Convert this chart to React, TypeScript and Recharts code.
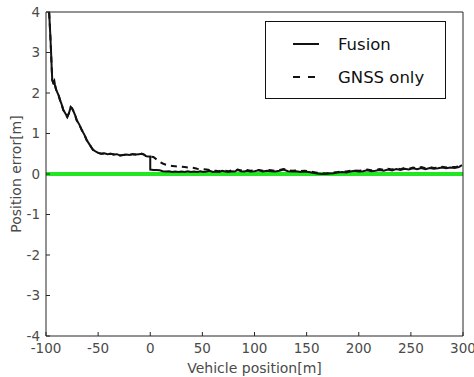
import { CartesianGrid, Line, LineChart, ReferenceLine, XAxis, YAxis } from 'recharts';

const font = '"DejaVu Sans", Verdana, sans-serif';
const axisColor = '#262626';
const tickText = { fill: '#4a4a4a', fontSize: 13.5, fontFamily: font };

const xTicks = [-100, -50, 0, 50, 100, 150, 200, 250, 300];
const yTicks = [-4, -3, -2, -1, 0, 1, 2, 3, 4];

// vehicle position [m]
const positions = [
  -98, -97, -96, -95.2, -94.5, -94, -93, -92, -91.4, -90.5, -89.8, -88, -86.6, -85, -83.4, -81.5, -79.6, -78,
  -76.3, -75, -73.8, -72, -70.6, -68, -65.8, -63, -61, -58, -55, -52, -50, -47, -44, -41, -38, -35, -32, -29,
  -26, -23, -20, -17, -14, -11, -8, -6, -4, -2, 0, 0, 3, 6, 9, 12, 15, 18, 21, 24, 27, 30, 33, 36, 39, 42, 45,
  48, 51, 54, 57, 60, 63, 66, 69, 72, 75, 78, 81, 84, 87, 90, 93, 96, 100, 104, 108, 112, 116, 120, 124, 128,
  132, 136, 140, 144, 148, 152, 156, 160, 164, 168, 172, 176, 180, 184, 188, 192, 196, 200, 204, 208, 212, 216,
  220, 224, 228, 232, 236, 240, 244, 248, 252, 256, 260, 264, 268, 272, 276, 280, 284, 288, 292, 296, 299,
];

const fusionErr = [
  4.8, 4.0, 3.5, 3.05, 2.6, 2.32, 2.25, 2.3, 2.2, 2.1, 2.05, 1.95, 1.83, 1.72, 1.58, 1.5, 1.41, 1.5,
  1.65, 1.62, 1.56, 1.45, 1.33, 1.22, 1.09, 0.96, 0.84, 0.72, 0.6, 0.55, 0.52, 0.5, 0.51, 0.49, 0.5, 0.48, 0.49, 0.46,
  0.47, 0.48, 0.47, 0.49, 0.48, 0.49, 0.5, 0.48, 0.44, 0.43, 0.43, 0.11, 0.1, 0.1, 0.09, 0.07, 0.06, 0.07, 0.05, 0.06, 0.05, 0.06, 0.05, 0.07, 0.05, 0.06, 0.05,
  0.07, 0.05, 0.06, 0.08, 0.05, 0.06, 0.05, 0.08, 0.06, 0.05, 0.07, 0.06, 0.1, 0.07, 0.06, 0.08, 0.06, 0.07, 0.09, 0.06, 0.08, 0.07, 0.06, 0.08, 0.11,
  0.07, 0.06, 0.07, 0.05, 0.06, 0.05, 0.03, 0.01, 0.0, 0.0, 0.01, 0.02, 0.04, 0.05, 0.04, 0.06, 0.08, 0.06, 0.07, 0.09, 0.07, 0.08,
  0.1, 0.08, 0.11, 0.09, 0.12, 0.1, 0.13, 0.11, 0.14, 0.12, 0.15, 0.12, 0.15, 0.13, 0.14, 0.16, 0.14, 0.16, 0.15, 0.17, 0.22,
];

const gnssErr = [
  4.8, 4.0, 3.5, 3.05, 2.6, 2.32, 2.25, 2.3, 2.2, 2.1, 2.05, 1.95, 1.83, 1.72, 1.58, 1.5, 1.41, 1.5,
  1.65, 1.62, 1.56, 1.45, 1.33, 1.22, 1.09, 0.96, 0.84, 0.72, 0.6, 0.55, 0.52, 0.5, 0.51, 0.49, 0.5, 0.48, 0.49, 0.46,
  0.47, 0.48, 0.47, 0.49, 0.48, 0.49, 0.5, 0.48, 0.44, 0.43, 0.43, 0.43, 0.42, 0.36, 0.3, 0.26, 0.23, 0.21, 0.2, 0.19, 0.18, 0.18, 0.17, 0.16, 0.16, 0.15, 0.13,
  0.12, 0.12, 0.11, 0.1, 0.08, 0.08, 0.07, 0.09, 0.08, 0.07, 0.09, 0.08, 0.11, 0.09, 0.08, 0.1, 0.08, 0.09, 0.1, 0.08, 0.1, 0.09, 0.08, 0.1, 0.12,
  0.09, 0.08, 0.09, 0.07, 0.08, 0.07, 0.05, 0.03, 0.02, 0.01, 0.02, 0.04, 0.05, 0.07, 0.06, 0.08, 0.09, 0.08, 0.09, 0.11, 0.09, 0.1,
  0.12, 0.1, 0.13, 0.11, 0.14, 0.12, 0.15, 0.13, 0.16, 0.14, 0.17, 0.14, 0.17, 0.15, 0.16, 0.18, 0.16, 0.18, 0.17, 0.19, 0.23,
];

const data = positions.map((x, i) => ({ x, fusion: fusionErr[i], gnss: gnssErr[i] }));

function LegendBox() {
  return (
    <div
      style={{
        position: 'absolute',
        left: 265,
        top: 21,
        width: 179,
        height: 76,
        border: '1px solid #111',
        background: '#fff',
      }}
    >
      <svg width={179} height={76} style={{ position: 'absolute', left: 0, top: 0 }}>
        <line x1={27} x2={53} y1={22} y2={22} stroke="#111" strokeWidth={2} />
        <line x1={27} x2={49} y1={55} y2={55} stroke="#111" strokeWidth={2} strokeDasharray="7 8" />
        <text x={72} y={28} fontSize={16.5} fill="#111" fontFamily={font}>Fusion</text>
        <text x={72} y={61} fontSize={16.5} fill="#111" fontFamily={font}>GNSS only</text>
      </svg>
    </div>
  );
}

export default function App() {
  return (
    <div style={{ position: 'fixed', left: 0, top: 0, width: 474, height: 377, background: '#fff' }}>
      <LineChart
        width={474}
        height={377}
        data={data}
        margin={{ top: 0, right: 0, bottom: 0, left: 0 }}
        style={{ fontFamily: font }}
      >
        <CartesianGrid stroke="none" />
        <XAxis
          dataKey="x"
          type="number"
          domain={[-100, 300]}
          ticks={xTicks}
          allowDataOverflow
          height={41}
          stroke={axisColor}
          tick={tickText}
          fontSize={13.5}
          tickSize={-4}
          tickMargin={11}
          label={{ value: 'Vehicle position[m]', position: 'insideBottom', offset: 4, fill: '#4a4a4a', fontSize: 14, fontFamily: font }}
        />
        <XAxis
          xAxisId="top"
          orientation="top"
          type="number"
          domain={[-100, 300]}
          ticks={xTicks}
          allowDataOverflow
          height={12}
          stroke={axisColor}
          tick={false}
          tickSize={-4}
        />
        <YAxis
          type="number"
          domain={[-4, 4]}
          ticks={yTicks}
          allowDataOverflow
          width={46}
          stroke={axisColor}
          tick={tickText}
          fontSize={13.5}
          tickSize={-4}
          tickMargin={10}
          label={{ value: 'Position error[m]', angle: -90, position: 'insideLeft', offset: 16, style: { textAnchor: 'middle' }, fill: '#4a4a4a', fontSize: 14, fontFamily: font }}
        />
        <YAxis
          yAxisId="right"
          orientation="right"
          type="number"
          domain={[-4, 4]}
          ticks={yTicks}
          allowDataOverflow
          width={11}
          stroke={axisColor}
          tick={false}
          tickSize={-4}
        />
        <ReferenceLine y={0} stroke="#22e622" strokeWidth={4} />
        <Line
          type="linear"
          dataKey="gnss"
          stroke="#111"
          strokeWidth={2}
          strokeDasharray="6 5"
          dot={false}
          isAnimationActive={false}
        />
        <Line type="linear" dataKey="fusion" stroke="#111" strokeWidth={2} dot={false} isAnimationActive={false} />
      </LineChart>
      <LegendBox />
    </div>
  );
}
